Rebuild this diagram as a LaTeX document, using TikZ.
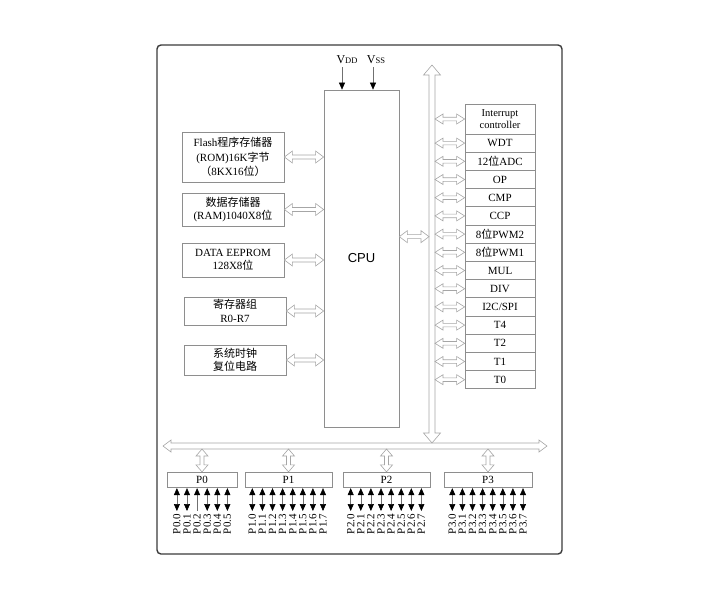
\documentclass[tikz,border=0pt]{standalone}
\usepackage{fontspec}
\setmainfont{Liberation Serif}
\newfontfamily\cjk{Noto Sans CJK SC}
\newfontfamily\arialfont{Liberation Sans}
\usetikzlibrary{calc,arrows.meta}
\definecolor{boxgray}{HTML}{8E8E8E}
\definecolor{arrgray}{HTML}{A6A6A6}
\definecolor{framegray}{HTML}{3A3A3A}
\definecolor{pingray}{HTML}{707070}
% hollow double-headed arrow: #1 start, #2 end, #3 head length, #4 shaft half width, #5 head half width
\newcommand\hollowarrow[5]{%
  \coordinate (hA) at (#1);
  \coordinate (hB) at (#2);
  \coordinate (hA1) at ($(hA)!#3!(hB)$);
  \coordinate (hB1) at ($(hB)!#3!(hA)$);
  \draw[hol] (hA) -- ($(hA1)!#5!90:(hB)$) -- ($(hA1)!#4!90:(hB)$)
    -- ($(hB1)!#4!-90:(hA)$) -- ($(hB1)!#5!-90:(hA)$) -- (hB)
    -- ($(hB1)!#5!90:(hA)$) -- ($(hB1)!#4!90:(hA)$)
    -- ($(hA1)!#4!-90:(hB)$) -- ($(hA1)!#5!-90:(hB)$) -- cycle;
}
\begin{document}
\begin{tikzpicture}[x=1pt,y=-1pt,
  box/.style={draw=boxgray, line width=0.7pt, fill=white, inner sep=0pt, align=center,
    font=\fontsize{11}{13.5}\selectfont},
  hol/.style={draw=arrgray, line width=0.6pt, fill=white, line join=miter},
  frame/.style={draw=framegray, line width=1.4pt, rounded corners=4pt},
  tip/.style={Triangle[width=6pt,length=7pt,color=black]},
  pinline/.style={draw=pingray, line width=0.6pt, {Triangle[width=6pt,length=7pt,color=black]}-{Triangle[width=6pt,length=7pt,color=black]}},
  pinup/.style={draw=pingray, line width=0.6pt, {Triangle[width=6pt,length=7pt,color=black]}-},
  pwr/.style={draw=pingray, line width=0.6pt, -{Triangle[width=6pt,length=7pt,color=black]}},
  plabel/.style={rotate=90, anchor=east, inner sep=0pt, font=\fontsize{11}{11}\selectfont},
  pwrlabel/.style={inner sep=0pt, font=\fontsize{12}{12}\selectfont}
]
\useasboundingbox (0,0) rectangle (720,600);
\draw[frame] (157,45) rectangle (562,554);

% CPU
\node[box, minimum width=75pt, minimum height=337pt, font=\arialfont\fontsize{13}{13}\selectfont] (cpu) at (361.5,258.5) {CPU};

% power
\node[pwrlabel] (vdd) at (347,60) {V{\fontsize{8.5}{8.5}\selectfont DD}};
\node[pwrlabel] (vss) at (376,60) {V{\fontsize{8.5}{8.5}\selectfont SS}};
\coordinate (vddtop) at (342,67);
\coordinate (vsstop) at (373,67);
\draw[pwr] (vddtop) -- (vddtop |- cpu.north);
\draw[pwr] (vsstop) -- (vsstop |- cpu.north);

% left memory blocks
\node[box, minimum width=102pt, minimum height=50pt, font=\fontsize{11}{14.5}\selectfont] (rom) at (233,157)
  {Flash{\cjk 程序存储器}\\(ROM)16K{\cjk 字节}\\{\cjk （}8KX16{\cjk 位）}};
\node[box, minimum width=102pt, minimum height=33pt] (ram) at (233,209.5)
  {{\cjk 数据存储器}\\(RAM)1040X8{\cjk 位}};
\node[box, minimum width=102pt, minimum height=34pt] (eep) at (233,260)
  {DATA EEPROM\\128X8{\cjk 位}};
\node[box, minimum width=102pt, minimum height=28pt] (reg) at (235,311)
  {{\cjk 寄存器组}\\R0-R7};
\node[box, minimum width=102pt, minimum height=30pt] (clk) at (235,360)
  {{\cjk 系统时钟}\\{\cjk 复位电路}};
\foreach \m in {rom,ram,eep,reg,clk}{
  \hollowarrow{\m.east}{\m.east -| cpu.west}{8pt}{2pt}{6pt}
}

% buses
\coordinate (vbT) at (432,65);
\coordinate (vbB) at (432,443);
\coordinate (busR) at (435,0);
\coordinate (hbL) at (163,446);
\coordinate (hbR) at (547,446);
\coordinate (hbB) at (0,449);
\hollowarrow{hbL}{hbR}{8pt}{3pt}{6pt}
\hollowarrow{vbB}{vbT}{10pt}{3pt}{8.5pt}
\coordinate (cpuport) at ($(cpu.north east)+(0,147)$);
\coordinate (busport) at (cpuport -| vbT);
\hollowarrow{cpuport}{$(busport)+(-3,0)$}{8pt}{2pt}{6pt}

% peripherals
\node[box, minimum width=70pt, minimum height=30pt, font=\fontsize{10.5}{12}\selectfont] (irq) at (500,119)
  {Interrupt\\controller};
\hollowarrow{irq.west -| busR}{irq.west}{8pt}{1.8pt}{5pt}
\foreach \nm/\txt [count=\j from 0] in {wdt/WDT, adc/{12{\cjk 位}ADC}, op/OP, cmp/CMP, ccp/CCP,
   pwmb/{8{\cjk 位}PWM2}, pwma/{8{\cjk 位}PWM1}, mul/MUL, div/DIV, i2c/{I2C/SPI}, tf/T4, tt/T2, to/T1, tz/T0}{
  \node[box, minimum width=70pt, minimum height=18.2pt] (\nm) at (500,{134+18.2*(\j+0.5)}) {\txt};
  \hollowarrow{\nm.west -| busR}{\nm.west}{8pt}{1.8pt}{5pt}
}

% ports
\node[box, minimum width=70pt, minimum height=15.5pt] (p0) at (202,480) {P0};
\node[box, minimum width=87pt, minimum height=15.5pt] (p1) at (288.5,480) {P1};
\node[box, minimum width=87pt, minimum height=15.5pt] (p2) at (386.5,480) {P2};
\node[box, minimum width=88pt, minimum height=15.5pt] (p3) at (488,480) {P3};
\foreach \p in {p0,p1,p2,p3}{
  \hollowarrow{\p.north |- hbB}{\p.north}{7pt}{2pt}{6pt}
}
\foreach \p/\k/\xs/\n in {p0/0/176.9/5, p1/1/252.3/7, p2/2/350.7/7, p3/3/452.3/7}{
  \foreach \i in {0,...,\n}{
    \pgfmathsetmacro\px{\xs+10.1*\i}
    \coordinate (pin) at (\px,511);
    \def\ps{pinline}
    \ifnum\k=0 \ifnum\i=2 \def\ps{pinup}\fi\fi
    \draw[\ps] (pin |- \p.south) -- (pin);
    \node[plabel] (l\k\i) at (\px,514) {P\k.\i};
  }
}
\end{tikzpicture}
\end{document}
